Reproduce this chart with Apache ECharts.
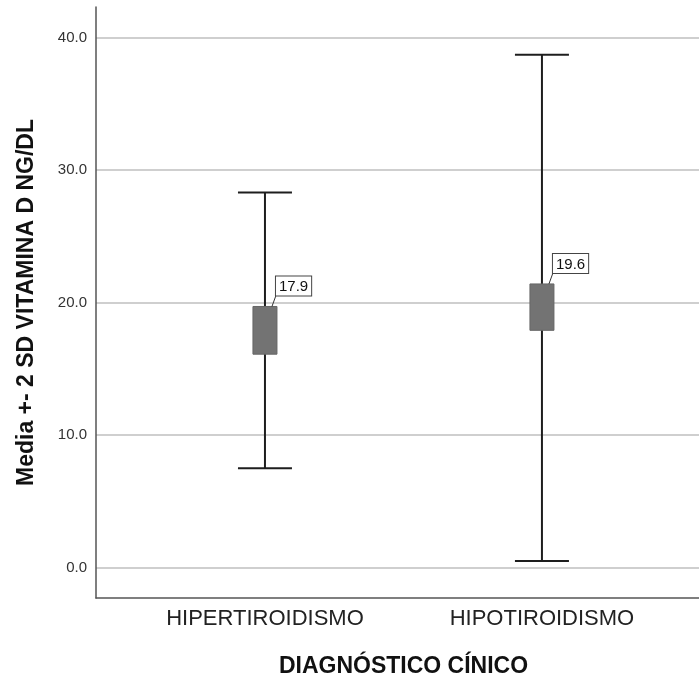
<!DOCTYPE html>
<html>
<head>
<meta charset="utf-8">
<script src="https://cdn.jsdelivr.net/npm/echarts@6/dist/echarts.min.js"></script>
<style>
  html, body { margin: 0; padding: 0; background: #fff; }
  #chart { width: 699px; height: 683px; }
</style>
</head>
<body>
<div id="chart"></div>
<script>
  // datos (media +- 2 SD)
  const categories = ['HIPERTIROIDISMO', 'HIPOTIROIDISMO']
  const means = [17.9, 19.6]
  const lowerBars = [7.5, 0.5]
  const upperBars = [28.3, 38.7]
  const boxLow = [16.1, 17.9]
  const boxHigh = [19.7, 21.4]
  const yTicks = [0, 10, 20, 30, 40]

  const FONT = '"Liberation Sans", Arial, sans-serif'

  const chart = echarts.init(document.getElementById('chart'))

  const seriesData = categories.map((c, i) => [i, means[i], lowerBars[i], upperBars[i], boxLow[i], boxHigh[i]])

  function renderItem(params, api) {
    const x = api.value(0)
    const top = api.coord([x, api.value(3)])
    const bottom = api.coord([x, api.value(2)])
    const bHi = api.coord([x, api.value(5)])
    const bLo = api.coord([x, api.value(4)])
    const cx = top[0]
    const capW = 27
    const boxW = 12
    const lineStyle = { stroke: '#1e1e1e', lineWidth: 2 }
    return {
      type: 'group',
      children: [
        { type: 'line', shape: { x1: cx, y1: top[1], x2: cx, y2: bottom[1] }, style: lineStyle },
        { type: 'line', shape: { x1: cx - capW, y1: top[1], x2: cx + capW, y2: top[1] }, style: lineStyle },
        { type: 'line', shape: { x1: cx - capW, y1: bottom[1], x2: cx + capW, y2: bottom[1] }, style: lineStyle },
        {
          type: 'rect',
          shape: { x: cx - boxW, y: bHi[1], width: boxW * 2, height: bLo[1] - bHi[1] },
          style: { fill: '#737373', stroke: '#666', lineWidth: 1 },
        },
        {
          type: 'line',
          shape: { x1: cx + 7, y1: bHi[1], x2: cx + 11, y2: bHi[1] - 11 },
          style: { stroke: '#333', lineWidth: 1 },
        },
        {
          type: 'text',
          x: cx + 11,
          y: bHi[1] - 11,
          style: {
            text: api.value(1).toFixed(1),
            fill: '#111',
            fontSize: 15,
            fontFamily: FONT,
            align: 'left',
            verticalAlign: 'bottom',
            backgroundColor: '#fff',
            borderColor: '#444',
            borderWidth: 1,
            padding: [3, 3, 1, 3],
          },
        },
      ],
    }
  }

  const option = {
    backgroundColor: '#fff',
    animation: false,
    grid: {
      left: 96,
      right: 0,
      top: 7,
      bottom: 83,
    },
    xAxis: {
      type: 'value',
      min: -0.61,
      max: 1.567,
      name: 'DIAGNÓSTICO CÍNICO',
      nameLocation: 'middle',
      nameGap: 57,
      nameTextStyle: {
        color: '#111',
        fontSize: 23,
        fontWeight: 'bold',
        fontFamily: FONT,
        padding: [0, 0, 0, 12],
      },
      axisLine: { onZero: false, lineStyle: { color: '#555', width: 1.5 } },
      axisTick: { show: false, customValues: [0, 1] },
      splitLine: { show: false },
      axisLabel: {
        customValues: [0, 1],
        formatter: v => categories[v],
        color: '#222',
        fontSize: 22,
        fontFamily: FONT,
        margin: 10,
      },
    },
    yAxis: {
      type: 'value',
      min: -2.3,
      max: 42.3,
      name: 'Media +- 2 SD VITAMINA D NG/DL',
      nameLocation: 'middle',
      nameGap: 58,
      nameTextStyle: {
        color: '#111',
        fontSize: 23,
        fontWeight: 'bold',
        fontFamily: FONT,
      },
      axisLine: { show: true, onZero: false, lineStyle: { color: '#555', width: 1.5 } },
      axisTick: { show: false, customValues: yTicks },
      axisLabel: {
        customValues: yTicks,
        formatter: v => v.toFixed(1),
        color: '#333',
        fontSize: 15,
        fontFamily: FONT,
        margin: 9,
      },
      splitLine: {
        show: true,
        lineStyle: { color: '#cfcfcf', width: 2 },
      },
    },
    series: [
      {
        type: 'custom',
        renderItem,
        encode: { x: 0, y: [1, 2, 3] },
        data: seriesData,
        silent: true,
      },
    ],
  }

  chart.setOption(option)
</script>
</body>
</html>
